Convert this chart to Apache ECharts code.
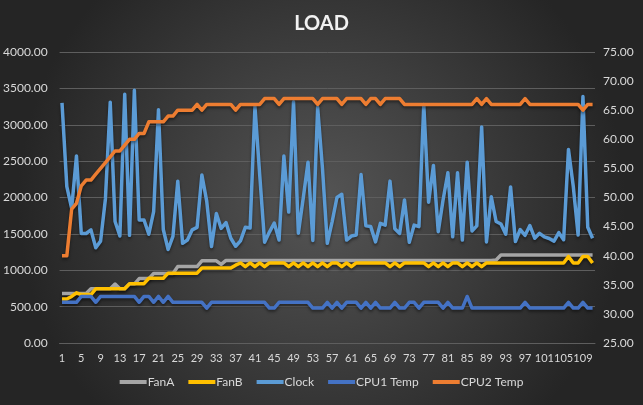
<!DOCTYPE html>
<html>
<head>
<meta charset="utf-8">
<script src="https://cdn.jsdelivr.net/npm/echarts@6/dist/echarts.min.js"></script>
<style>
  html, body { margin: 0; padding: 0; }
  #chart { width: 643px; height: 405px; }
</style>
</head>
<body>
<div id="chart"></div>
<script>
// sample numbers 1..111
const samples = [];
for (let i = 1; i <= 111; i++) samples.push(String(i));

const fanA = [
  680, 680, 680, 680, 680, 680, 745, 745, 745, 745,
  745, 810, 745, 745, 810, 810, 885, 885, 885, 955,
  955, 955, 955, 955, 1050, 1050, 1050, 1050, 1050, 1130,
  1130, 1130, 1130, 1080, 1135, 1135, 1135, 1135, 1135, 1135,
  1135, 1135, 1135, 1135, 1135, 1135, 1135, 1135, 1135, 1135,
  1135, 1135, 1135, 1135, 1135, 1135, 1135, 1135, 1135, 1135,
  1135, 1135, 1135, 1135, 1135, 1135, 1135, 1135, 1135, 1135,
  1135, 1135, 1135, 1135, 1135, 1135, 1135, 1135, 1135, 1135,
  1135, 1135, 1135, 1135, 1135, 1135, 1135, 1135, 1135, 1135,
  1140, 1210, 1210, 1210, 1210, 1210, 1210, 1210, 1210, 1210,
  1210, 1210, 1210, 1210, 1210, 1210, 1210, 1210, 1210, 1210,
  1210
];

const fanB = [
  605, 605, 640, 690, 665, 665, 665, 745, 745, 745,
  745, 745, 745, 745, 815, 815, 815, 815, 890, 890,
  890, 890, 960, 960, 960, 960, 960, 960, 960, 1030,
  1030, 1030, 1030, 1030, 1030, 1030, 1070, 1100, 1050, 1100,
  1050, 1100, 1050, 1100, 1100, 1100, 1100, 1050, 1100, 1050,
  1100, 1050, 1100, 1050, 1100, 1050, 1100, 1100, 1050, 1100,
  1050, 1100, 1100, 1100, 1100, 1100, 1100, 1100, 1050, 1100,
  1050, 1100, 1100, 1100, 1100, 1100, 1050, 1100, 1050, 1100,
  1050, 1100, 1100, 1050, 1100, 1050, 1100, 1050, 1100, 1100,
  1100, 1100, 1100, 1100, 1100, 1100, 1100, 1100, 1100, 1100,
  1100, 1100, 1100, 1100, 1100, 1190, 1100, 1100, 1190, 1190,
  1100
];

const clock = [
  3300, 2150, 1850, 2570, 1505, 1505, 1555, 1310, 1400, 1980,
  3310, 1670, 1470, 3420, 1480, 3475, 1690, 1690, 1495, 1805,
  3205, 1560, 1285, 1465, 2225, 1370, 1415, 1555, 1590, 2310,
  1950, 1325, 1780, 1575, 1655, 1440, 1330, 1405, 1590, 1580,
  3250, 2300, 1385, 1525, 1650, 1415, 2570, 1800, 3315, 1510,
  1985, 2485, 1410, 3240, 2400, 1370, 1665, 2000, 2045, 1415,
  1470, 1485, 2315, 1610, 1600, 1390, 1645, 1620, 2225, 1570,
  1505, 1965, 1385, 1620, 1600, 3280, 1935, 2440, 1530, 1965,
  2340, 1460, 2340, 1415, 2485, 1540, 1610, 2970, 1390, 2010,
  1670, 1635, 1495, 2145, 1395, 1560, 1480, 1615, 1440, 1508,
  1458, 1437, 1400, 1517, 1420, 2660, 2150, 1485, 3387, 1590,
  1440
];

const cpu1Temp = [
  32, 32, 32, 32, 33, 33, 33, 32, 33, 33,
  33, 33, 33, 33, 33, 33, 32, 33, 33, 32,
  33, 32, 33, 32, 32, 32, 32, 32, 32, 32,
  31, 32, 32, 32, 32, 32, 32, 32, 32, 32,
  32, 32, 32, 31, 31, 32, 32, 32, 32, 32,
  32, 32, 31, 31, 31, 32, 31, 32, 31, 32,
  32, 32, 31, 32, 31, 32, 31, 31, 31, 32,
  31, 31, 32, 32, 31, 32, 32, 32, 32, 31,
  32, 31, 31, 31, 33, 31, 31, 31, 31, 31,
  31, 31, 31, 31, 31, 31, 32, 31, 31, 31,
  31, 31, 31, 31, 31, 32, 31, 31, 32, 31,
  31
];

const cpu2Temp = [
  40, 40, 48, 49, 52, 53, 53, 54, 55, 56,
  57, 58, 58, 59, 60, 60, 61, 61, 63, 63,
  63, 63, 64, 64, 65, 65, 65, 65, 66, 65,
  66, 66, 66, 66, 66, 66, 65, 66, 66, 66,
  66, 66, 67, 67, 67, 66, 67, 67, 67, 67,
  67, 67, 67, 66, 67, 67, 67, 67, 66, 67,
  67, 67, 67, 66, 67, 67, 66, 67, 67, 67,
  67, 66, 66, 66, 66, 66, 66, 66, 66, 66,
  66, 66, 66, 66, 66, 66, 67, 66, 67, 66,
  66, 66, 66, 66, 66, 66, 67, 66, 66, 66,
  66, 66, 66, 66, 66, 66, 66, 66, 65, 66,
  66
];

const textColor = '#d9d9d9';
const gridColor = '#5e5e5e';
const fontFamily = 'Lato';

function lineSeries(name, data, color, yAxisIndex) {
  return {
    name: name,
    type: 'line',
    data: data,
    yAxisIndex: yAxisIndex,
    showSymbol: false,
    symbol: 'none',
    lineStyle: {
      width: 3.5,
      color: color,
      join: 'round',
      shadowColor: 'rgba(0,0,0,0.45)',
      shadowBlur: 3,
      shadowOffsetY: 2
    },
    itemStyle: { color: color },
    emphasis: { disabled: true },
    animation: false
  };
}

const chart = echarts.init(document.getElementById('chart'));
chart.setOption({
  backgroundColor: new echarts.graphic.RadialGradient(0.5, 0.5, 0.75, [
    { offset: 0, color: '#555555' },
    { offset: 1, color: '#252525' }
  ]),
  title: {
    text: 'LOAD',
    left: 'center',
    top: 9,
    textStyle: {
      color: '#f2f2f2',
      fontFamily: fontFamily,
      fontWeight: 'bold',
      fontSize: 20
    }
  },
  legend: {
    bottom: 12,
    left: 'center',
    icon: 'rect',
    itemWidth: 27,
    itemHeight: 4,
    itemGap: 14,
    textStyle: {
      color: textColor,
      fontFamily: fontFamily,
      fontSize: 12,
      padding: [0, 0, 0, -4]
    },
    data: ['FanA', 'FanB', 'Clock', 'CPU1 Temp', 'CPU2 Temp']
  },
  grid: {
    left: 59,
    right: 48,
    top: 52,
    bottom: 62
  },
  xAxis: {
    type: 'category',
    data: samples,
    boundaryGap: true,
    axisLine: { lineStyle: { color: gridColor, width: 1 } },
    axisTick: { show: false },
    axisLabel: {
      interval: (idx) => idx % 4 === 0,
      hideOverlap: false,
      color: textColor,
      fontFamily: fontFamily,
      fontSize: 11,
      margin: 10
    }
  },
  yAxis: [
    {
      type: 'value',
      min: 0,
      max: 4000,
      interval: 500,
      position: 'left',
      axisLine: { show: false },
      axisTick: { show: false },
      axisLabel: {
        color: textColor,
        fontFamily: fontFamily,
        fontSize: 12,
        margin: 12,
        formatter: v => v.toFixed(2)
      },
      splitLine: { lineStyle: { color: gridColor, width: 1 } }
    },
    {
      type: 'value',
      min: 25,
      max: 75,
      interval: 5,
      position: 'right',
      axisLine: { show: false },
      axisTick: { show: false },
      axisLabel: {
        color: textColor,
        fontFamily: fontFamily,
        fontSize: 12,
        margin: 8,
        formatter: v => v.toFixed(2)
      },
      splitLine: { show: false }
    }
  ],
  series: [
    lineSeries('FanA', fanA, '#a5a5a5', 0),
    lineSeries('FanB', fanB, '#ffc000', 0),
    lineSeries('Clock', clock, '#5b9bd5', 0),
    lineSeries('CPU1 Temp', cpu1Temp, '#4472c4', 1),
    lineSeries('CPU2 Temp', cpu2Temp, '#ed7d31', 1)
  ]
});
</script>
</body>
</html>
